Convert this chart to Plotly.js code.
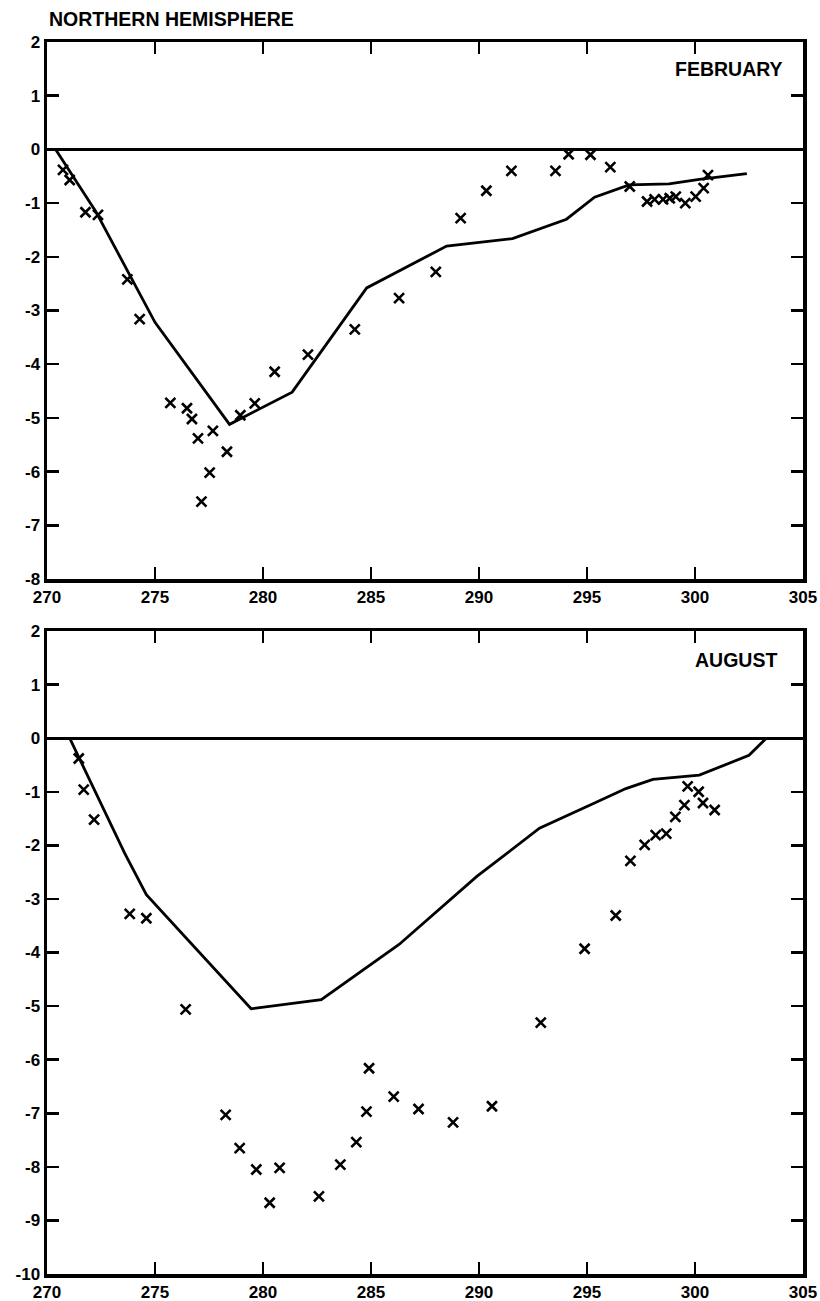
<!DOCTYPE html>
<html>
<head>
<meta charset="utf-8">
<script src="https://cdn.plot.ly/plotly-3.0.1.min.js"></script>
<style>html,body{margin:0;padding:0;background:#fff;}#chart{width:820px;height:1301px;}</style>
</head>
<body>
<div id="chart"></div>
<script>
// FEBRUARY panel: model curve
const febLineX = [270.4, 272.25, 275.0, 278.45, 281.35, 284.8, 288.5, 291.55, 294.05, 295.35, 296.95, 298.8, 300.2, 302.4];
const febLineY = [0.0, -1.15, -3.22, -5.12, -4.52, -2.58, -1.80, -1.66, -1.30, -0.89, -0.66, -0.64, -0.56, -0.45];
// FEBRUARY panel: observations (x)
const febObsX = [270.74, 271.05, 271.78, 272.36, 273.72, 274.29, 275.71, 276.48, 276.71, 276.99, 277.15, 277.53, 277.68, 278.33, 278.95, 279.62, 280.54, 282.08, 284.25, 286.3, 288.0, 289.15, 290.34, 291.5, 293.54, 294.15, 295.16, 296.08, 296.98, 297.78, 298.13, 298.52, 298.83, 299.11, 299.55, 300.03, 300.4, 300.6];
const febObsY = [-0.38, -0.57, -1.17, -1.22, -2.42, -3.16, -4.72, -4.82, -5.02, -5.38, -6.56, -6.02, -5.24, -5.63, -4.95, -4.73, -4.14, -3.82, -3.35, -2.77, -2.28, -1.28, -0.77, -0.40, -0.40, -0.09, -0.10, -0.33, -0.69, -0.97, -0.93, -0.93, -0.91, -0.88, -1.00, -0.88, -0.72, -0.48];

// AUGUST panel: model curve
const augLineX = [271.05, 273.6, 274.6, 279.45, 282.7, 286.3, 289.9, 292.8, 295.3, 296.8, 298.05, 300.2, 302.5, 303.3];
const augLineY = [0.0, -2.15, -2.92, -5.05, -4.88, -3.85, -2.58, -1.68, -1.22, -0.94, -0.77, -0.69, -0.32, 0.0];
// AUGUST panel: observations (x)
const augObsX = [271.47, 271.7, 272.18, 273.83, 274.6, 276.42, 278.27, 278.92, 279.69, 280.31, 280.77, 282.59, 283.58, 284.32, 284.79, 284.91, 286.05, 287.2, 288.8, 290.6, 292.86, 294.89, 296.33, 297.01, 297.67, 298.18, 298.67, 299.09, 299.51, 299.66, 300.17, 300.37, 300.91];
const augObsY = [-0.38, -0.96, -1.52, -3.28, -3.36, -5.06, -7.03, -7.65, -8.05, -8.67, -8.02, -8.55, -7.96, -7.54, -6.97, -6.16, -6.69, -6.92, -7.17, -6.87, -5.31, -3.93, -3.31, -2.29, -1.99, -1.81, -1.78, -1.47, -1.25, -0.90, -1.00, -1.21, -1.34];

const titleText = 'NORTHERN HEMISPHERE';
const panelLabels = ['FEBRUARY', 'AUGUST'];
const xTicks = [270, 275, 280, 285, 290, 295, 300, 305];
const yTicksFeb = [2, 1, 0, -1, -2, -3, -4, -5, -6, -7, -8];
const yTicksAug = [2, 1, 0, -1, -2, -3, -4, -5, -6, -7, -8, -9, -10];
const yLabelsFeb = ['2', '1', '0', '-1', '-2', '-3', '-4', '-5', '-6', '-7', '-8'];
const yLabelsAug = ['2', '1', '0', '-1', '-2', '-3', '-4', '-5', '-6', '-7', '-8', '-9', '-10'];

const tickFont = {family: 'Liberation Sans', size: 17, weight: 'bold', color: '#000'};
const labelFont = {family: 'Liberation Sans', size: 19.5, weight: 'bold', color: '#000'};
const lineStyle = {color: '#000', width: 2.8};
const markerStyle = {symbol: 'x-thin', size: 10, color: '#000', line: {color: '#000', width: 2.6}};

const traces = [
  {x: febLineX, y: febLineY, mode: 'lines', line: lineStyle, xaxis: 'x', yaxis: 'y', hoverinfo: 'skip'},
  {x: febObsX, y: febObsY, mode: 'markers', marker: markerStyle, xaxis: 'x', yaxis: 'y'},
  {x: augLineX, y: augLineY, mode: 'lines', line: lineStyle, xaxis: 'x2', yaxis: 'y2', hoverinfo: 'skip'},
  {x: augObsX, y: augObsY, mode: 'markers', marker: markerStyle, xaxis: 'x2', yaxis: 'y2'}
];

function xAxis(anchor) {
  return {
    anchor: anchor, domain: [0, 1], range: [270, 305], tickvals: xTicks,
    ticks: 'inside', ticklen: 12, tickwidth: 2.5, tickcolor: '#000',
    showline: true, linewidth: 3.5, linecolor: '#000', mirror: 'ticks',
    showgrid: false, zeroline: false, tickfont: tickFont, automargin: false
  };
}
function yAxis(anchor, domain, range, vals, labels) {
  return {
    anchor: anchor, domain: domain, range: range, tickvals: vals, ticktext: labels,
    ticks: 'inside', ticklen: 12, tickwidth: 2.5, tickcolor: '#000',
    showline: true, linewidth: 3.5, linecolor: '#000', mirror: 'ticks',
    showgrid: false, zeroline: true, zerolinewidth: 3, zerolinecolor: '#000',
    tickfont: tickFont, automargin: false
  };
}

const layout = {
  width: 820, height: 1301,
  margin: {l: 47, r: 17, t: 42, b: 27, pad: 0},
  paper_bgcolor: '#fff', plot_bgcolor: '#fff',
  showlegend: false,
  xaxis: xAxis('y'),
  yaxis: yAxis('x', [0.5641, 1], [-8, 2], yTicksFeb, yLabelsFeb),
  xaxis2: xAxis('y2'),
  yaxis2: yAxis('x2', [0, 0.5219], [-10, 2], yTicksAug, yLabelsAug),
  annotations: [
    {text: titleText, xref: 'paper', yref: 'paper', x: 0, y: 1.0187, xanchor: 'left', yanchor: 'middle',
     showarrow: false, font: labelFont},
    {text: panelLabels[0], xref: 'x', yref: 'y', x: 304.15, y: 1.5, xanchor: 'right', yanchor: 'middle',
     showarrow: false, font: labelFont},
    {text: panelLabels[1], xref: 'x2', yref: 'y2', x: 303.9, y: 1.46, xanchor: 'right', yanchor: 'middle',
     showarrow: false, font: labelFont}
  ]
};

Plotly.newPlot('chart', traces, layout, {staticPlot: true, displayModeBar: false});
</script>
</body>
</html>
